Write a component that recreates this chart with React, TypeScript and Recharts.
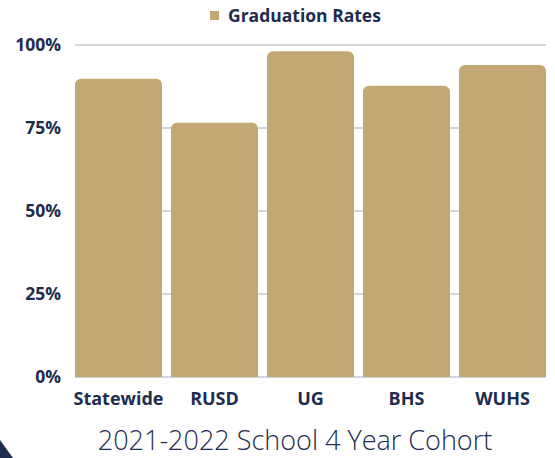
import { Bar, BarChart, CartesianGrid, Legend, XAxis, YAxis } from "recharts";

const schools = ["Statewide", "RUSD", "UG", "BHS", "WUHS"];
const rates = [89.8, 76.6, 98.1, 87.7, 94];
const yTicks = [0, 25, 50, 75, 100];
const seriesName = "Graduation Rates";
const title = "2021-2022 School 4 Year Cohort";

const data = schools.map((s, i) => ({ school: s, rate: rates[i] }));

const navy = "#1e2c4e";
const gold = "#c4a874";
const font = "'Open Sans', sans-serif";

function LegendBox() {
  return (
    <div style={{ display: "flex", alignItems: "center", fontFamily: font }}>
      <span style={{ width: 9, height: 9, background: gold, display: "inline-block", marginRight: 9 }} />
      <span style={{ color: navy, fontWeight: 700, fontSize: 17.5 }}>{seriesName}</span>
    </div>
  );
}

export default function App() {
  return (
    <div style={{ position: "fixed", left: 0, top: 0, width: 555, height: 458, background: "#fff", overflow: "hidden" }}>
      <BarChart width={555} height={458} data={data} margin={{ top: 45, right: 9, left: 0, bottom: 51 }} barCategoryGap={4.5}>
        <CartesianGrid vertical={false} stroke="#c6c9d3" strokeWidth={1.5} />
        <XAxis
          dataKey="school"
          axisLine={false}
          tickLine={false}
          height={30}
          padding={{ left: -4.5, right: -4.5 }}
          tickMargin={9}
          tick={{ fill: navy, fontSize: 18, fontWeight: 700, fontFamily: font }}
          interval={0}
        />
        <YAxis
          domain={[0, 100]}
          ticks={yTicks}
          width={75}
          axisLine={false}
          tickLine={false}
          tickMargin={8}
          tickFormatter={(v) => `${v}%`}
          tick={{ fill: navy, fontSize: 17.5, fontWeight: 700, fontFamily: font }}
        />
        <Legend
          layout="vertical"
          verticalAlign="middle"
          align="center"
          wrapperStyle={{ top: 3, left: 210, width: "auto" }}
          content={() => <LegendBox />}
        />
        <Bar dataKey="rate" name={seriesName} fill={gold} radius={[6, 6, 0, 0]} isAnimationActive={false} />
      </BarChart>
      <div
        style={{
          position: "absolute",
          left: 0,
          width: 590,
          top: 423,
          textAlign: "center",
          color: navy,
          fontFamily: font,
          fontWeight: 300,
          fontSize: 27,
          lineHeight: "34px",
        }}
      >
        {title}
      </div>
      <svg style={{ position: "absolute", left: 0, top: 0 }} width={555} height={458}>
        <polygon points="0,440 13,458 0,458" fill={navy} />
      </svg>
    </div>
  );
}
